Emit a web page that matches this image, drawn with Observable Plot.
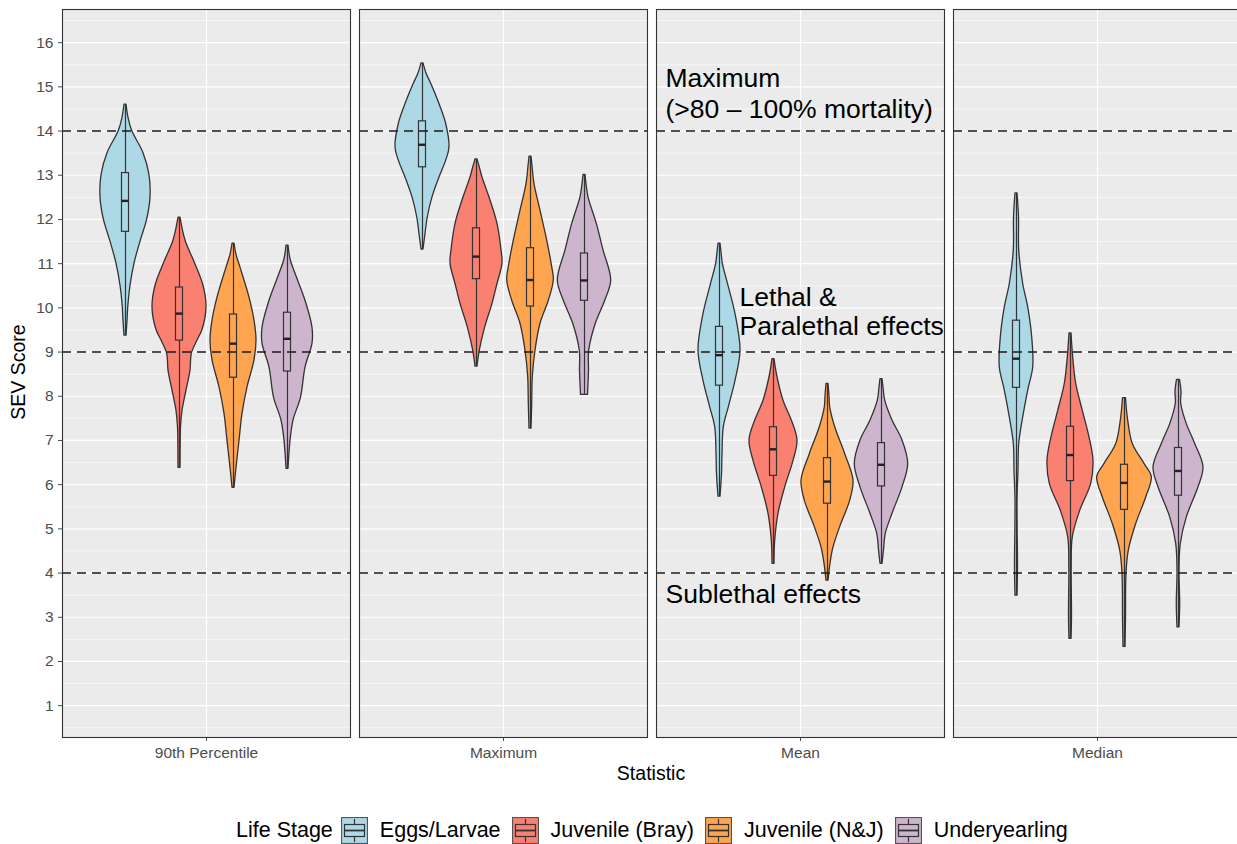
<!DOCTYPE html>
<html>
<head>
<meta charset="utf-8">
<script src="https://cdn.jsdelivr.net/npm/d3@7"></script>
<script src="https://cdn.jsdelivr.net/npm/@observablehq/plot@0.6"></script>
<style>
  html, body { margin: 0; padding: 0; background: #fff; }
  body { width: 1237px; height: 844px; overflow: hidden; font-family: "Liberation Sans", Arial, sans-serif; }
  #chart svg { display: block; }
  .legend { display: flex; align-items: center; height: 44px; margin-top: 8px; padding-left: 236px; font-size: 21.5px; color: #000; }
  .legend .title { margin-right: 8px; }
  .legend .key { margin-right: 12px; }
  .legend .lab { margin-right: 11px; }
</style>
</head>
<body>
<div id="chart"></div>
<div class="legend" id="legend"></div>
<script>
// Facets (summary statistic) and groups (life stage)
const statistics = ["90th Percentile", "Maximum", "Mean", "Median"];
const lifeStages = ["Eggs/Larvae", "Juvenile (Bray)", "Juvenile (N&J)", "Underyearling"];
const stageColors = ["#ADD8E6", "#FA8072", "#FFA54F", "#CDB5CD"];

// Violin outlines: [SEV score, density] pairs, one list per life stage
const violin90th = [
  [[9.37,1],[9.7,2],[10,2.7],[10.5,5],[11,9],[11.5,15],[12,21.7],[12.5,25],[13,24],[13.5,18],[14,6.7],[14.3,3],[14.6,1]],
  [[6.38,1],[7.0,1.2],[7.3,1.5],[7.67,3],[8.13,7],[8.58,11],[8.96,12.3],[9.26,18],[9.5,23],[10.0,27],[10.5,24],[11.0,15.7],[11.5,6.3],[11.8,3],[12.04,1]],
  [[5.93,1],[6.38,3],[6.99,6],[7.6,9],[8.2,14],[8.81,21],[9.26,23],[9.71,21],[10.23,16],[10.91,7],[11.2,3],[11.45,1]],
  [[6.36,1],[6.99,3],[7.45,6],[7.97,13.5],[8.65,18],[9.19,25],[9.55,25],[10.16,18],[10.77,8],[11.1,3],[11.41,1]]
];
const violinMaximum = [
  [[11.32,1],[11.67,3],[12.05,5.3],[12.5,10],[12.95,17],[13.33,23.7],[13.63,27],[14.16,23.7],[14.61,17],[15.07,8.7],[15.3,4],[15.53,1]],
  [[8.67,1],[9.03,3.3],[9.56,8.7],[10.09,16],[10.54,21],[11.0,26],[11.3,25],[11.9,21],[12.43,14],[12.95,6],[13.2,3],[13.36,1]],
  [[7.27,1],[7.83,1.7],[8.43,2.3],[9.03,5],[9.64,10],[10.16,18.3],[10.62,23.3],[10.92,21.7],[11.52,16.7],[12.2,10],[12.8,4],[13.2,2],[13.42,1]],
  [[8.03,3.5],[8.28,4],[8.58,4.5],[9.03,4.7],[9.64,11.3],[10.16,20.7],[10.62,26.7],[11.3,19],[11.9,12.3],[12.5,4],[12.8,2],[13.01,1]]
];
const violinMean = [
  [[5.73,1],[6.24,2.5],[6.69,3],[7.3,4.3],[7.75,9.3],[8.35,16],[9.03,21],[9.86,16],[10.47,9.3],[11.0,3.3],[11.25,2],[11.45,1]],
  [[4.21,1],[4.73,1.7],[5.34,5],[5.94,11.7],[6.54,20],[7.0,24],[7.45,18.3],[7.9,10],[8.43,4],[8.84,1]],
  [[3.83,1],[4.21,3],[4.58,6],[5.04,12.7],[5.64,22.7],[6.09,26],[6.69,17.7],[7.3,7.7],[7.75,2.7],[8.0,2],[8.28,1]],
  [[4.21,1],[4.51,2.5],[4.89,4.3],[5.34,11],[5.94,21],[6.47,26.7],[7.0,21],[7.45,11],[7.9,3.7],[8.2,2],[8.39,1]]
];
const violinMedian = [
  [[3.49,1],[4.13,1.5],[5.64,1],[6.32,2],[6.92,2.7],[7.52,6.7],[8.13,11.7],[8.65,16.7],[9.33,15.7],[10.01,11.7],[10.54,6.7],[11.3,2.7],[12.05,2.5],[12.59,1]],
  [[2.51,1],[3.0,1.5],[4.13,1.2],[4.81,2.3],[5.41,9.7],[6.02,20.7],[6.54,23],[7.07,19],[7.67,12.3],[8.28,5.7],[8.88,2.7],[9.42,1]],
  [[2.33,1],[3.0,1.5],[3.98,2],[4.51,4.3],[5.11,11.7],[5.71,21.7],[6.17,27.3],[6.47,20],[6.92,8.3],[7.52,3.3],[7.96,1.5]],
  [[2.77,1],[3.3,1.7],[4.05,1],[4.66,2.3],[5.26,8.3],[5.94,20],[6.39,25],[6.92,16.7],[7.37,8.3],[7.83,2.7],[8.1,3],[8.37,1.5]]
];

// Box plot summaries: [lower quartile, median, upper quartile] per life stage
const box90th    = [[11.72,12.42,13.05],[9.26,9.87,10.46],[8.42,9.19,9.85],[8.56,9.30,9.89]];
const boxMaximum = [[13.18,13.69,14.22],[10.65,11.16,11.80],[10.03,10.63,11.35],[10.16,10.62,11.23]];
const boxMean    = [[8.24,8.93,9.57],[6.20,6.80,7.30],[5.57,6.07,6.60],[5.96,6.45,6.94]];
const boxMedian  = [[8.19,8.85,9.71],[6.08,6.67,7.31],[5.43,6.04,6.45],[5.75,6.31,6.83]];

// Effect-category thresholds and axis ticks
const thresholds = [4, 9, 14];
const yTicks = d3.range(1, 17);
const yMinorTicks = d3.range(0.5, 17, 1);

const violinsByStat = [violin90th, violinMaximum, violinMean, violinMedian];
const boxesByStat = [box90th, boxMaximum, boxMean, boxMedian];

// Dodge: four groups share 0.9 of each category's width
const dodge = i => -0.45 + 0.1125 + i * 0.225;
const densityToWidth = 1 / 240;
const boxHalf = 0.0146;

const violinRows = [];
const boxRows = [];
statistics.forEach((stat, s) => {
  lifeStages.forEach((stage, g) => {
    const prof = violinsByStat[s][g];
    prof.forEach(([y, dens]) => violinRows.push({stat, stage, y, dens, c: dodge(g)}));
    const [q1, med, q3] = boxesByStat[s][g];
    boxRows.push({stat, stage, c: dodge(g), q1, med, q3, lo: prof[0][0], hi: prof[prof.length - 1][0]});
  });
});

const annotations = [
  {stat: "Mean", x: -0.5625, y: 15.19, text: "Maximum"},
  {stat: "Mean", x: -0.5625, y: 14.48, text: "(>80 \u2013 100% mortality)"},
  {stat: "Mean", x: -0.254, y: 10.23, text: "Lethal &"},
  {stat: "Mean", x: -0.254, y: 9.57, text: "Paralethal effects"},
  {stat: "Mean", x: -0.5625, y: 3.51, text: "Sublethal effects"}
];

const plot = Plot.plot({
  width: 1237,
  height: 800,
  marginLeft: 62,
  marginRight: -4,
  marginTop: 9,
  marginBottom: 63,
  style: {fontFamily: "'Liberation Sans', Arial, sans-serif", fontSize: "15.5px", color: "#4D4D4D", background: "white"},
  fx: {domain: statistics, paddingInner: 9 / 297, paddingOuter: 0, axis: "bottom", label: null, tickSize: 4, tickPadding: 5},
  x: {domain: [-0.6, 0.6], axis: null},
  y: {domain: [0.28, 16.75], ticks: yTicks, tickSize: 4, tickPadding: 5, label: null},
  color: {domain: lifeStages, range: stageColors},
  marks: [
    Plot.frame({fill: "#EBEBEB"}),
    Plot.gridY(yMinorTicks, {stroke: "white", strokeOpacity: 1, strokeWidth: 0.6}),
    Plot.gridY(yTicks, {stroke: "white", strokeOpacity: 1, strokeWidth: 1.2}),
    Plot.gridX([0], {stroke: "white", strokeOpacity: 1, strokeWidth: 1.2}),
    Plot.areaX(violinRows, {
      fx: "stat", y: "y", z: "stage", fill: "stage",
      x1: d => d.c - d.dens * densityToWidth,
      x2: d => d.c + d.dens * densityToWidth,
      stroke: "#333", strokeWidth: 1.3, curve: "catmull-rom"
    }),
    Plot.ruleX(boxRows, {fx: "stat", x: "c", y1: "lo", y2: "hi", stroke: "#333", strokeWidth: 1.2}),
    Plot.rect(boxRows, {fx: "stat", x1: d => d.c - boxHalf, x2: d => d.c + boxHalf, y1: "q1", y2: "q3", fill: "stage", stroke: "#333", strokeWidth: 1.2}),
    Plot.ruleY(boxRows, {fx: "stat", x1: d => d.c - boxHalf, x2: d => d.c + boxHalf, y: "med", stroke: "#222", strokeWidth: 2.4}),
    Plot.ruleY(thresholds, {stroke: "#1a1a1a", strokeDasharray: "9,6", strokeWidth: 1.5}),
    Plot.text(annotations, {fx: "stat", x: "x", y: "y", text: "text", fontSize: 26.5, textAnchor: "start", fill: "black"}),
    Plot.frame({stroke: "#333", strokeWidth: 1.1})
  ]
});

// Axis titles
const svg = d3.select(plot);
svg.append("text")
  .attr("transform", "translate(25,372) rotate(-90)")
  .attr("text-anchor", "middle")
  .attr("font-size", 19.5).attr("fill", "black")
  .text("SEV Score");
svg.append("text")
  .attr("x", 651).attr("y", 780)
  .attr("text-anchor", "middle")
  .attr("font-size", 19.5).attr("fill", "black")
  .text("Statistic");

document.getElementById("chart").append(plot);

// Legend: violin key with a box-plot glyph for each life stage
const legend = d3.select("#legend");
legend.append("span").attr("class", "title").text("Life Stage");
lifeStages.forEach((stage, i) => {
  const k = legend.append("svg").attr("class", "key").attr("width", 27).attr("height", 27);
  k.append("rect").attr("x", 0.5).attr("y", 0.5).attr("width", 26).attr("height", 26)
    .attr("fill", stageColors[i]).attr("stroke", "#555").attr("stroke-width", 1.2);
  k.append("rect").attr("x", 3.5).attr("y", 7.5).attr("width", 20).attr("height", 12)
    .attr("fill", stageColors[i]).attr("stroke", "#333").attr("stroke-width", 1.2);
  k.append("line").attr("x1", 3.5).attr("x2", 23.5).attr("y1", 13.5).attr("y2", 13.5)
    .attr("stroke", "#333").attr("stroke-width", 1.8);
  k.append("line").attr("x1", 13.5).attr("x2", 13.5).attr("y1", 2).attr("y2", 7.5).attr("stroke", "#333").attr("stroke-width", 1.2);
  k.append("line").attr("x1", 13.5).attr("x2", 13.5).attr("y1", 19.5).attr("y2", 25).attr("stroke", "#333").attr("stroke-width", 1.2);
  legend.append("span").attr("class", "lab").text(stage);
});
</script>
</body>
</html>
